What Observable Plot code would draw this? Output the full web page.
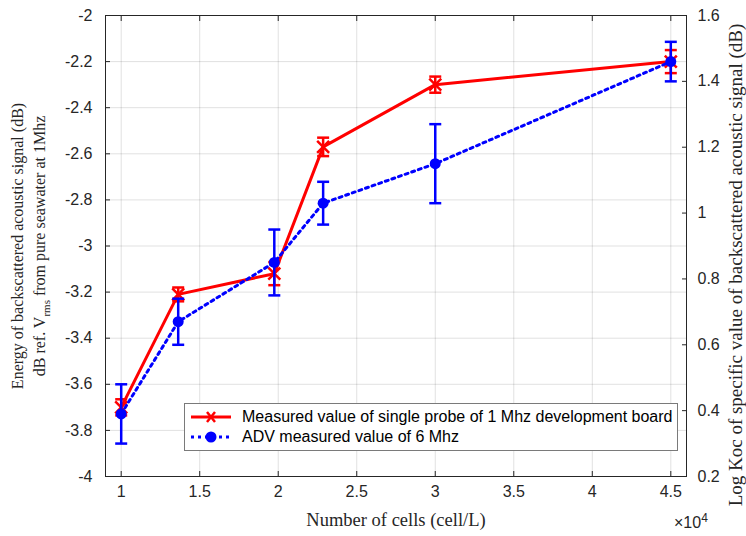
<!DOCTYPE html>
<html>
<head>
<meta charset="utf-8">
<script src="https://cdn.jsdelivr.net/npm/d3@7"></script>
<script src="https://cdn.jsdelivr.net/npm/@observablehq/plot@0.6"></script>
<style>
  body { margin: 0; background: #fff; }
  #wrap { position: relative; width: 746px; height: 536px; background: #fff; font-family: "Liberation Sans", Arial, sans-serif; }
  .serif { font-family: "Liberation Serif", "Times New Roman", serif; color: #262626; }
  .abs { position: absolute; white-space: nowrap; }
  .legend { position: absolute; background: #fff; border: 1px solid #7a7a7a; font-size: 16px; color: #000; }
  .legend .row { position: absolute; left: 0; height: 20px; display: flex; align-items: center; }
  .legend svg { display: block; }
</style>
</head>
<body>
<div id="wrap"></div>
<script>
// ---- data ----
const xTicks = [1, 1.5, 2, 2.5, 3, 3.5, 4, 4.5];
const leftTicks = [-4, -3.8, -3.6, -3.4, -3.2, -3, -2.8, -2.6, -2.4, -2.2, -2];
const rightTicks = [0.2, 0.4, 0.6, 0.8, 1, 1.2, 1.4, 1.6];
const cells = [1, 1.363, 1.975, 2.286, 3, 4.5];           // ×10^4 cell/L
const energyDb = [-3.70, -3.21, -3.12, -2.57, -2.30, -2.20];
const energyErr = [0.035, 0.03, 0.05, 0.04, 0.035, 0.05];
const logKoc = [0.39, 0.67, 0.85, 1.03, 1.15, 1.46];
const logKocErr = [0.09, 0.07, 0.10, 0.065, 0.12, 0.06];
const seriesNames = ["Measured value of single probe of 1 Mhz development board", "ADV measured value of 6 Mhz"];

const leftDomain = [-4, -2];
const rightDomain = [0.2, 1.6];
const toLeft = r => leftDomain[0] + (r - rightDomain[0]) / (rightDomain[1] - rightDomain[0]) * (leftDomain[1] - leftDomain[0]);
const toRight = l => rightDomain[0] + (l - leftDomain[0]) / (leftDomain[1] - leftDomain[0]) * (rightDomain[1] - rightDomain[0]);

const red = cells.map((x, i) => ({x, y: energyDb[i], lo: energyDb[i] - energyErr[i], hi: energyDb[i] + energyErr[i]}));
const blue = cells.map((x, i) => ({x, y: toLeft(logKoc[i]), lo: toLeft(logKoc[i] - logKocErr[i]), hi: toLeft(logKoc[i] + logKocErr[i])}));

const cap = { draw(ctx, size) { const w = Math.sqrt(size / Math.PI); ctx.moveTo(-w, 0); ctx.lineTo(w, 0); } };
const RED = "#ff0000", BLUE = "#0000ff";
const fmt = v => String(+v.toFixed(1));

const chart = Plot.plot({
  width: 746, height: 536,
  marginLeft: 105, marginRight: 60, marginTop: 15, marginBottom: 60,
  style: { fontFamily: "'Liberation Sans', Arial, sans-serif", fontSize: "16px", color: "#262626", background: "#fff" },
  x: { domain: [0.9, 4.6] },
  y: { domain: leftDomain },
  marks: [
    Plot.gridX(xTicks, { stroke: "#000", strokeOpacity: 0.12 }),
    Plot.gridY(leftTicks, { stroke: "#000", strokeOpacity: 0.12 }),
    Plot.frame({ stroke: "#262626" }),
    Plot.axisX(xTicks, { anchor: "bottom", tickSize: -5, tickPadding: 14, fontSize: 16, label: null, tickFormat: d => String(d), stroke: "#262626" }),
    Plot.axisX(xTicks, { anchor: "top", tickSize: -5, label: null, tickFormat: () => "", stroke: "#262626" }),
    Plot.axisY(leftTicks, { anchor: "left", tickSize: -5, tickPadding: 18, fontSize: 16, label: null, tickFormat: d => fmt(d), stroke: "#262626" }),
    Plot.axisY(rightTicks.map(toLeft), { anchor: "right", tickSize: -5, tickPadding: 16, fontSize: 16, label: null, tickFormat: d => fmt(toRight(d)), stroke: "#262626" }),
    // red series
    Plot.line(red, { x: "x", y: "y", stroke: RED, strokeWidth: 3 }),
    Plot.ruleX(red, { x: "x", y1: "lo", y2: "hi", stroke: RED, strokeWidth: 2.5 }),
    Plot.dot(red, { x: "x", y: "lo", symbol: cap, r: 6, stroke: RED, strokeWidth: 2.5 }),
    Plot.dot(red, { x: "x", y: "hi", symbol: cap, r: 6, stroke: RED, strokeWidth: 2.5 }),
    Plot.dot(red, { x: "x", y: "y", symbol: "times", r: 5.5, stroke: RED, strokeWidth: 2.5 }),
    // blue series
    Plot.line(blue, { x: "x", y: "y", stroke: BLUE, strokeWidth: 3, strokeDasharray: "3,4" }),
    Plot.ruleX(blue, { x: "x", y1: "lo", y2: "hi", stroke: BLUE, strokeWidth: 2.5 }),
    Plot.dot(blue, { x: "x", y: "lo", symbol: cap, r: 6, stroke: BLUE, strokeWidth: 2.5 }),
    Plot.dot(blue, { x: "x", y: "hi", symbol: cap, r: 6, stroke: BLUE, strokeWidth: 2.5 }),
    Plot.dot(blue, { x: "x", y: "y", r: 5.5, fill: BLUE })
  ]
});

const wrap = document.getElementById("wrap");
chart.style.position = "absolute";
chart.style.left = "0"; chart.style.top = "0";
wrap.appendChild(chart);

function add(html, css, cls) {
  const d = document.createElement("div");
  d.className = "abs " + (cls || "");
  d.innerHTML = html;
  Object.assign(d.style, css);
  wrap.appendChild(d);
  return d;
}

// left title (two lines, rotated)
add('Energy of backscattered acoustic signal (dB)<br>dB ref. V<sub style="font-size:11px">rms</sub> from pure seawater at 1Mhz',
  { left: "32px", top: "246px", fontSize: "16px", lineHeight: "22px", textAlign: "center", transform: "translate(-50%,-50%) rotate(-90deg)" }, "serif");
// right title
add("Log Koc of specific value of backscattered acoustic signal (dB)",
  { left: "736px", top: "265px", fontSize: "19px", transform: "translate(-50%,-50%) rotate(-90deg)" }, "serif");
// x title
add("Number of cells (cell/L)", { left: "396px", top: "520px", fontSize: "18.5px", transform: "translate(-50%,-50%)" }, "serif");
// exponent
add('×10<sup style="font-size:12px">4</sup>', { left: "674px", top: "511px", fontSize: "16px", color: "#262626" });

// legend
const lg = document.createElement("div");
lg.className = "legend";
Object.assign(lg.style, { left: "184px", top: "403px", width: "492px", height: "46px" });
const rows = [
  { y: 3, svg: `<svg width="52" height="20"><line x1="6" y1="10" x2="46" y2="10" stroke="${RED}" stroke-width="3"/><path d="M22,5L30,15M22,15L30,5" stroke="${RED}" stroke-width="2.5"/></svg>` },
  { y: 23, svg: `<svg width="52" height="20"><line x1="6" y1="10" x2="46" y2="10" stroke="${BLUE}" stroke-width="3" stroke-dasharray="3,4"/><circle cx="26" cy="10" r="5.5" fill="${BLUE}"/></svg>` }
];
rows.forEach((r, i) => {
  const row = document.createElement("div");
  row.className = "row";
  row.style.top = r.y + "px";
  row.innerHTML = r.svg + `<span style="margin-left:5px">${seriesNames[i]}</span>`;
  lg.appendChild(row);
});
wrap.appendChild(lg);
</script>
</body>
</html>
